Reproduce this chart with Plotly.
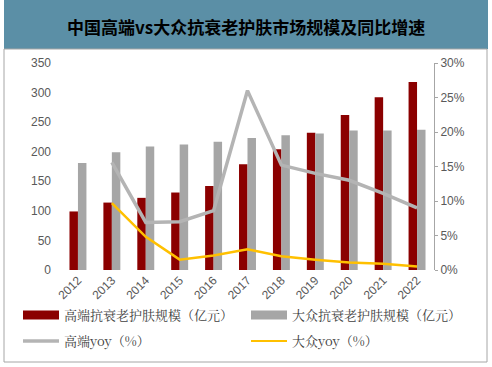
import plotly.graph_objects as go

years = ["2012", "2013", "2014", "2015", "2016", "2017", "2018", "2019", "2020", "2021", "2022"]
high_size = [99, 114, 122, 131, 142, 179, 204, 232, 262, 292, 318]
mass_size = [181, 199, 209, 212, 217, 223, 228, 231, 236, 236, 237]
high_yoy = [None, 15.6, 6.9, 7.0, 8.6, 26.0, 15.2, 14.0, 13.0, 11.1, 9.0]
mass_yoy = [None, 9.7, 4.8, 1.5, 2.1, 3.0, 2.0, 1.5, 1.1, 0.9, 0.5]
title_text = "中国高端vs大众抗衰老护肤市场规模及同比增速"
names = ["高端抗衰老护肤规模（亿元）", "大众抗衰老护肤规模（亿元）", "高端yoy（%）", "大众yoy（%）"]

RED = "#8B0000"
GREY = "#A6A6A6"
LGREY = "#B4B4B4"
YEL = "#FFC000"

fig = go.Figure()
fig.add_trace(go.Bar(x=years, y=high_size, name=names[0], showlegend=False,
                     marker=dict(color=RED, line=dict(width=0))))
fig.add_trace(go.Bar(x=years, y=mass_size, name=names[1], showlegend=False,
                     marker=dict(color=GREY, line=dict(width=0))))
fig.add_trace(go.Scatter(x=years, y=high_yoy, name=names[2], mode="lines", yaxis="y2",
                         showlegend=False, line=dict(color=LGREY, width=3.5)))
fig.add_trace(go.Scatter(x=years, y=mass_yoy, name=names[3], mode="lines", yaxis="y2",
                         showlegend=False, line=dict(color=YEL, width=2.5)))

W, H = 492, 367
L, R, T, B = 61, 58, 63, 97
pw, ph = W - L - R, H - T - B

# legend entries (wide swatches like the original), one legend per entry
legend_specs = [
    (names[0], RED, 9, "legend", 22, 315),
    (names[1], GREY, 9, "legend2", 250, 315),
    (names[2], LGREY, 3.5, "legend3", 22, 341),
    (names[3], YEL, 2, "legend4", 250, 341),
]
legfont = dict(family="Noto Serif CJK SC, Noto Sans CJK SC", size=13, color="#404040")
leg_layout = {}
for nm, col, w, lg, lx, ly in legend_specs:
    fig.add_trace(go.Scatter(x=[None], y=[None], name=nm, mode="lines", legend=lg,
                             line=dict(color=col, width=w), showlegend=True))
    leg_layout[lg] = dict(xref="container", yref="container", x=(lx - 4) / W, xanchor="left",
                          y=(H - ly) / H, yanchor="middle", font=legfont, itemwidth=36,
                          bgcolor="rgba(0,0,0,0)", borderwidth=0)

tickfont = dict(family="Liberation Sans, Arial", size=12, color="#595959")


def px(x):
    return (x - L) / pw


def py(y):
    return (H - B - y) / ph


fig.update_layout(
    width=W, height=H,
    margin=dict(l=L, r=R, t=T, b=B, autoexpand=False),
    paper_bgcolor="white", plot_bgcolor="white",
    barmode="group", bargap=0.5, bargroupgap=0,
    showlegend=True,
    xaxis=dict(type="category", tickangle=-45, tickfont=tickfont, showline=False, showgrid=False,
               ticks="", ticklen=0),
    yaxis=dict(range=[0, 350], dtick=50, tickfont=tickfont, showgrid=False, showline=False,
               zeroline=False, ticks="", ticklabelstandoff=9),
    yaxis2=dict(range=[0, 30], dtick=5, ticksuffix="%", overlaying="y", side="right",
                tickfont=tickfont, showgrid=False, showline=True, linecolor=GREY,
                linewidth=1, ticks="outside", ticklen=3, tickcolor=GREY, zeroline=False),
    shapes=[
        dict(type="rect", xref="paper", yref="paper", x0=px(4), x1=px(488),
             y0=py(49), y1=py(0), fillcolor="#5B8FA6", line=dict(width=0), layer="below"),
        dict(type="rect", xref="paper", yref="paper", x0=px(4), x1=px(487),
             y0=py(362), y1=py(49), line=dict(color=GREY, width=1),
             fillcolor="rgba(0,0,0,0)", layer="below"),
    ],
    annotations=[
        dict(text="<b>" + title_text + "</b>", xref="paper", yref="paper",
             x=px(246), y=py(26), xanchor="center", yanchor="middle", showarrow=False,
             font=dict(family="Noto Sans CJK SC", size=17, color="#000000")),
    ],
    **leg_layout,
)
fig.write_html("out.html", config={"displayModeBar": False},
               post_script="document.body.style.margin='0px';document.body.style.overflow='hidden';")
